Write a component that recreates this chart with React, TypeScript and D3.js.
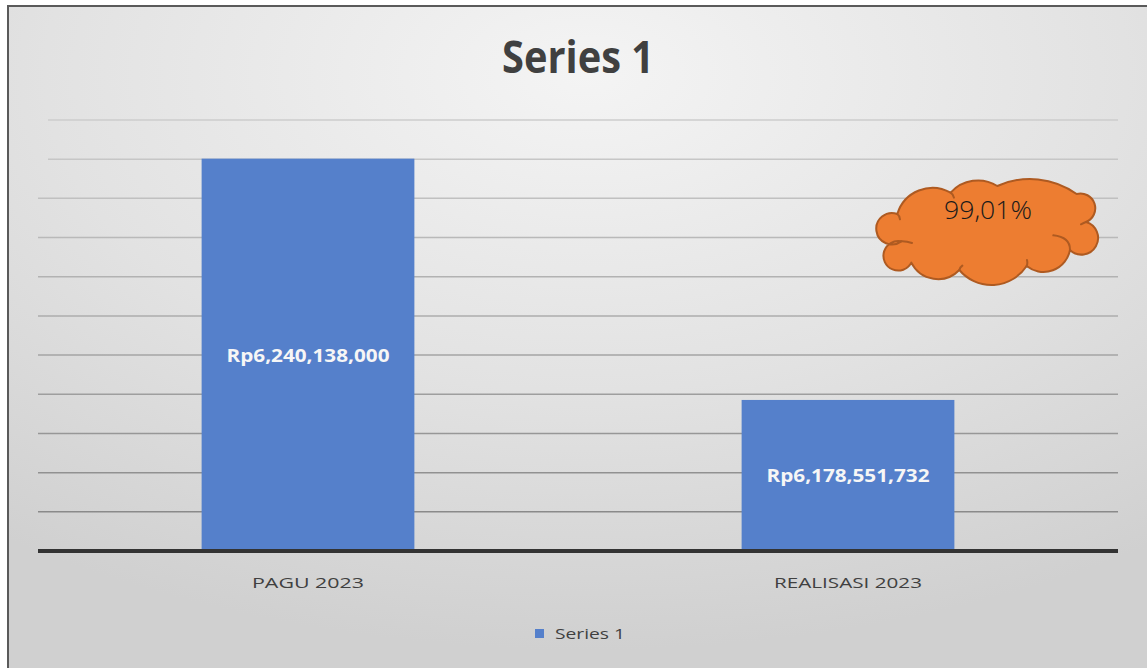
import React from "react";
import * as d3 from "d3";

const categories = ["PAGU 2023", "REALISASI 2023"];
const values = [6240138000, 6178551732];
const valueLabels = ["Rp6,240,138,000", "Rp6,178,551,732"];
const seriesName = "Series 1";
const yMin = 6140000000;
const yMax = 6250000000;
const yStep = 10000000;
const calloutText = "99,01%";

const W = 1147;
const H = 668;
const plot = { left: 38, right: 1118, top: 120, bottom: 551 };

// cloud outline (local units, 3x scale): [start, peak, end]
const cloudSegs: [number, number][][] = [
  [[292, 192], [365, 118], [452, 128]],
  [[452, 128], [522, 92], [592, 108]],
  [[592, 108], [712, 88], [830, 132]],
  [[830, 132], [886, 168], [858, 216]],
  [[858, 216], [903, 262], [810, 300]],
  [[810, 300], [772, 356], [680, 348]],
  [[680, 348], [578, 405], [478, 360]],
  [[478, 360], [398, 386], [334, 338]],
  [[334, 338], [246, 318], [304, 274]],
  [[304, 274], [228, 234], [292, 192]],
];
const cloudInner: [number, number][][] = [
  [[760, 256], [798, 270], [810, 300]],
  [[304, 274], [320, 275], [336, 279]],
  [[292, 192], [297, 198], [300, 208]],
  [[858, 216], [851, 219], [843, 223]],
  [[680, 348], [682, 340], [681, 330]],
  [[478, 360], [481, 353], [487, 347]],
  [[452, 128], [458, 134], [462, 143]],
];

function cloudPath() {
  let d = `M${cloudSegs[0][0][0]},${cloudSegs[0][0][1]}`;
  cloudSegs.forEach(([s, p, e]) => {
    const dx = e[0] - s[0];
    const dy = e[1] - s[1];
    const L = Math.hypot(dx, dy);
    // distance of peak from chord (outward positive)
    const sag = Math.abs((p[0] - s[0]) * dy - (p[1] - s[1]) * dx) / L;
    const r = (L * L / 4 + sag * sag) / (2 * sag);
    const large = sag > L / 2 ? 1 : 0;
    d += ` A${r.toFixed(2)},${r.toFixed(2)} 0 ${large} 1 ${e[0]},${e[1]}`;
  });
  return d + " Z";
}
function innerPath() {
  const path = d3.path();
  cloudInner.forEach(([s, p, e]) => {
    const c = [2 * p[0] - (s[0] + e[0]) / 2, 2 * p[1] - (s[1] + e[1]) / 2];
    path.moveTo(s[0], s[1]);
    path.quadraticCurveTo(c[0], c[1], e[0], e[1]);
  });
  return path.toString();
}

export default function App() {
  const x = d3
    .scaleBand<string>()
    .domain(categories)
    .range([plot.left, plot.right])
    .paddingInner(0.606)
    .paddingOuter(0.303);
  const y = d3.scaleLinear().domain([yMin, yMax]).range([plot.bottom, plot.top]);
  const ticks = d3.range(yMin + yStep, yMax + yStep / 2, yStep);
  const gridColor = d3
    .scaleLinear<string>()
    .domain([0, ticks.length - 1])
    .range(["#8a8a8a", "#cdcdcd"]);
  const font = "'Open Sans', 'Liberation Sans', sans-serif";

  return (
    <svg width={W} height={H} style={{ position: "absolute", left: 0, top: 0 }}>
      <defs>
        <radialGradient id="bg" cx="50%" cy="10%" r="85%">
          <stop offset="0%" stopColor="#f4f4f4" />
          <stop offset="55%" stopColor="#e2e2e2" />
          <stop offset="100%" stopColor="#d0d0d0" />
        </radialGradient>
      </defs>
      <rect x={0} y={0} width={W} height={H} fill="#ffffff" />
      <rect x={8} y={6} width={W + 10} height={H + 10} fill="url(#bg)" stroke="#5a5a5a" strokeWidth={2} />

      <text x={578} y={73} textAnchor="middle" fontFamily={font} fontWeight={700} fontSize={44} fill="#404040" textLength={152} lengthAdjust="spacingAndGlyphs">
        {seriesName}
      </text>

      {ticks.map((t, i) => (
        <line
          key={t}
          x1={i >= ticks.length - 2 ? plot.left + 10 : plot.left}
          x2={plot.right}
          y1={y(t)}
          y2={y(t)}
          stroke={gridColor(i)}
          strokeWidth={1.5}
        />
      ))}

      {categories.map((c, i) => (
        <rect key={c} x={x(c)} y={y(values[i])} width={x.bandwidth()} height={y(yMin) - y(values[i])} fill="#5580cb" />
      ))}

      <line x1={plot.left} x2={plot.right} y1={y(yMin)} y2={y(yMin)} stroke="#333333" strokeWidth={4} />

      {categories.map((c, i) => (
        <text
          key={c + "v"}
          x={(x(c) as number) + x.bandwidth() / 2}
          y={(y(values[i]) + y(yMin)) / 2 + 7}
          textAnchor="middle"
          fontFamily={font}
          fontWeight={700}
          fontSize={17}
          fill="#f6f6f6"
          textLength={163}
          lengthAdjust="spacingAndGlyphs"
        >
          {valueLabels[i]}
        </text>
      ))}

      {categories.map((c, i) => (
        <text
          key={c + "x"}
          x={(x(c) as number) + x.bandwidth() / 2}
          y={y(yMin) + 37}
          textAnchor="middle"
          fontFamily={font}
          fontSize={15}
          fill="#404040"
          textLength={i === 0 ? 112 : 148}
          lengthAdjust="spacingAndGlyphs"
        >
          {c}
        </text>
      ))}

      <rect x={535} y={629} width={9} height={9} fill="#5580cb" />
      <text x={555} y={639} fontFamily={font} fontSize={14} fill="#404040" textLength={70} lengthAdjust="spacingAndGlyphs">
        {seriesName}
      </text>

      <g transform="translate(800,150) scale(0.3333)">
        <path d={cloudPath()} fill="#ed7d31" stroke="#ae5a21" strokeWidth={6} strokeLinejoin="round" />
        <path d={innerPath()} fill="none" stroke="#ae5a21" strokeWidth={6} strokeLinecap="round" />
      </g>
      <text x={988} y={219} textAnchor="middle" fontFamily={font} fontWeight={300} fontSize={26} fill="#1a1a1a" textLength={88} lengthAdjust="spacingAndGlyphs">
        {calloutText}
      </text>
    </svg>
  );
}
